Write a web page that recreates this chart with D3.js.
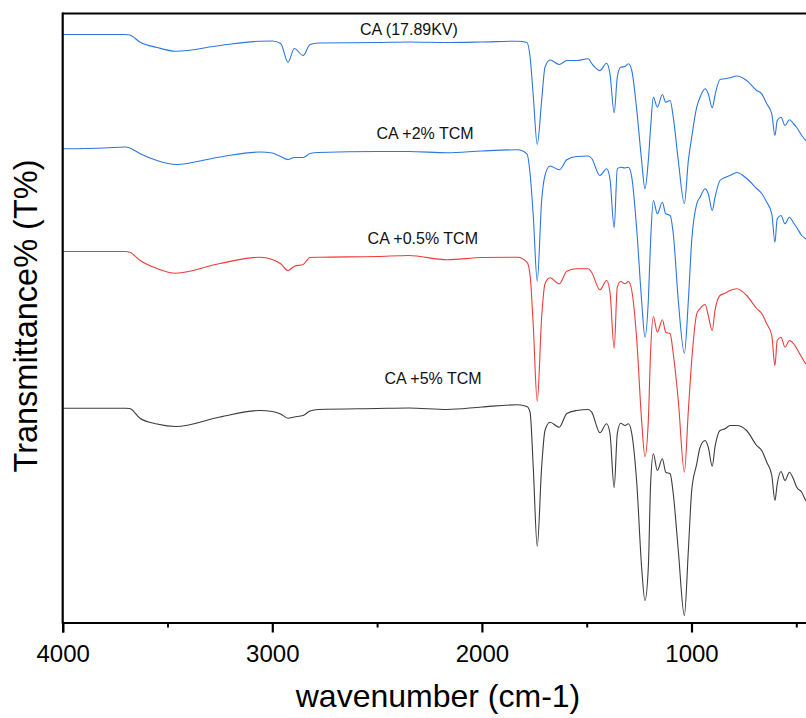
<!DOCTYPE html>
<html>
<head>
	<title>FTIR spectra</title>
	<style>
		body { margin: 0; background-color: white; }
		text { font-family: "Liberation Sans", Arial, sans-serif; }
	</style>
</head>
<body>

<div id="dataviz"></div>

<script src="https://d3js.org/d3.v7.min.js"></script>
<script>

// wavenumber grid (cm-1), shared by all spectra
var wavenumber = [4000, 3800, 3700, 3680, 3630, 3550, 3460, 3250, 3060, 3000, 2960,
	2925, 2895, 2853, 2820, 2780, 2500, 2350, 2166, 2000, 1830,
	1785, 1770, 1755, 1736, 1715, 1699, 1675, 1631, 1595, 1548,
	1492, 1476, 1437, 1405, 1389, 1369, 1354, 1338, 1317, 1301,
	1285, 1261, 1238, 1222, 1206, 1195, 1182, 1163, 1139, 1123,
	1102, 1087, 1063, 1034, 1015, 999, 975, 959, 935, 920,
	901, 888, 864, 840, 816, 784, 737, 689, 665, 641,
	617, 602, 591, 573, 554, 533, 514, 498, 474, 454,
	400];

// stacked transmittance (offset, a.u.)
var ca17 = [58.8, 58.8, 58.8, 58.75, 58.03, 57.5, 57.13, 57.7, 58.13, 58.15, 57.9,
	56.03, 57.4, 56.7, 57.8, 57.95, 58, 58.05, 58, 58.05, 58.13,
	58, 56.53, 52.7, 47.8, 52.2, 55.53, 56.25, 55.8, 56.2, 56.2,
	56.37, 55.9, 55.2, 55.93, 54.87, 50.97, 54.53, 55.53, 55.6, 55.87,
	55.2, 51.2, 46.2, 43.37, 46.2, 49.53, 52.53, 51.53, 52.8, 52.03,
	52.2, 50.53, 46.2, 41.9, 46.2, 48.53, 51.53, 52.53, 53.37, 52.87,
	51.47, 52.7, 54.3, 54.37, 54.47, 54.65, 54.2, 53.2, 52.87, 51.87,
	50.87, 48.7, 50.2, 50.53, 49.7, 50.27, 49.9, 49.5, 48.7, 48.2,
	47.7];

var ca2 = [47.37, 47.45, 47.55, 47.45, 46.87, 46.2, 45.8, 46.55, 47.05, 46.95, 46.6,
	46.3, 46.5, 46.5, 46.9, 47, 47.1, 47.1, 46.97, 47.15, 47.27,
	46.87, 44.87, 40.7, 34.13, 42.2, 44.7, 45.65, 45.27, 46.27, 46.6,
	46.65, 46.4, 44.7, 45.37, 44.37, 39.47, 45.37, 45.53, 45.45, 45.53,
	44.53, 39.2, 32.2, 28.53, 32.2, 38.2, 42.2, 40.87, 42.03, 40.87,
	40.7, 38.87, 32.2, 26.93, 32.2, 38.2, 41.87, 42.53, 43.37, 42.87,
	41.2, 42.5, 44.2, 44.5, 44.7, 45, 44.4, 43.4, 42.9, 42.03,
	40.87, 38.03, 40.37, 40.7, 39.87, 40.53, 40, 39.5, 38.7, 38.37,
	37.9];

var ca05 = [37.1, 37.1, 37.1, 37.03, 36.2, 35.4, 34.93, 35.9, 36.53, 36.3, 35.87,
	35.2, 35.63, 35.8, 36.5, 36.53, 36.6, 36.7, 36.27, 36.5, 36.53,
	36.03, 34.7, 29.7, 22.1, 30.53, 33.87, 34.47, 33.87, 35.13, 35.37,
	35.37, 35, 33.27, 34.2, 33.03, 27.43, 33.53, 34.1, 33.87, 34.1,
	33.2, 28.2, 20.2, 16.6, 20.2, 27.2, 30.6, 29.03, 30.27, 29.03,
	28.87, 26.87, 22.2, 15.03, 21.2, 26.2, 30.87, 31.4, 31.8, 30.7,
	29.2, 31.2, 32.7, 32.93, 33.2, 33.37, 32.7, 31.4, 30.9, 29.87,
	28.7, 25.7, 28.2, 28.53, 27.53, 28.2, 27.9, 27.4, 26.53, 25.87,
	25.4];

var ca5 = [21.43, 21.43, 21.43, 21.4, 20.4, 19.85, 19.6, 20.55, 21.2, 21.1, 20.85,
	20.43, 20.55, 20.7, 21.15, 21.3, 21.4, 21.45, 21.3, 21.55, 21.77,
	21.6, 21, 15.53, 7.63, 15.53, 19.2, 20.03, 19.53, 20.9, 21.2,
	21.3, 21.03, 18.97, 19.87, 18.9, 13.47, 18.9, 19.93, 19.7, 19.87,
	18.9, 13.9, 5.53, 2.2, 5.53, 13.9, 16.87, 15.2, 16.37, 15.03,
	14.87, 12.87, 7.2, 0.7, 7.2, 13.2, 15.87, 17.53, 18.2, 17.53,
	15.63, 17.53, 19.2, 19.37, 19.7, 19.7, 19.2, 17.7, 17.2, 16.03,
	14.7, 12.2, 13.87, 15.1, 14.2, 15.03, 14.37, 13.53, 13.03, 12.2,
	11.7];

var seriesNames = ['CA (17.89KV)', 'CA +2% TCM', 'CA +0.5% TCM', 'CA +5% TCM'];
var seriesValues = [ca17, ca2, ca05, ca5];
var seriesColors = ['#2b76e2', '#2b76e2', '#ee3b3b', '#3c3c3c'];
// label anchor: wavenumber and level
var labelWave = [2348, 2271, 2282, 2233];
var labelLevel = [58.78, 48.38, 37.85, 23.88];

var majorTicks = [4000, 3000, 2000, 1000];
var minorTicks = [3500, 2500, 1500, 500];

var width = 806;
var height = 718;
var plotLeft = 62.7;
var plotBottom = 622.5;
var plotTop = 13.5;

var svg = d3.select('#dataviz')
	.append('svg')
	.attr('width', width)
	.attr('height', height)
	;

var x = d3.scaleLinear()
	.domain([4000, 400])
	.range([plotLeft, plotLeft + 3600 * 0.2096])
	;

var y = d3.scaleLinear()
	.domain([0, 61])
	.range([plotBottom, plotBottom - 610])
	;

svg.append('clipPath')
	.attr('id', 'plotclip')
	.append('rect')
	.attr('x', plotLeft)
	.attr('y', plotTop)
	.attr('width', x(400) - plotLeft)
	.attr('height', plotBottom - plotTop)
	;

var line = d3.line()
	.x(function(d){ return x(d[0]); })
	.y(function(d){ return y(d[1]); })
	.curve(d3.curveMonotoneX)
	;

var g = svg.append('g').attr('clip-path', 'url(#plotclip)');

seriesValues.forEach(function(vals, i){
	var pts = wavenumber.map(function(w, j){ return [w, vals[j]]; });
	g.append('path')
		.datum(pts)
		.attr('d', line)
		.attr('fill', 'none')
		.attr('stroke', seriesColors[i])
		.attr('stroke-width', 1.1)
		;
});

// curve labels
seriesNames.forEach(function(name, i){
	svg.append('text')
		.attr('x', x(labelWave[i]))
		.attr('y', y(labelLevel[i]))
		.attr('text-anchor', 'middle')
		.attr('font-size', 16)
		.attr('fill', '#111')
		.text(name)
		;
});

// frame: top line and left axis
svg.append('line')
	.attr('x1', plotLeft)
	.attr('x2', width)
	.attr('y1', plotTop)
	.attr('y2', plotTop)
	.attr('stroke', 'black')
	.attr('stroke-width', 2.2)
	;

svg.append('line')
	.attr('x1', plotLeft)
	.attr('x2', plotLeft)
	.attr('y1', plotTop - 1)
	.attr('y2', plotBottom + 1)
	.attr('stroke', 'black')
	.attr('stroke-width', 2.2)
	;

// bottom axis
var xAxis = d3.axisBottom(x)
	.tickValues(majorTicks)
	.tickSize(10)
	.tickPadding(12)
	.tickFormat(d3.format('d'))
	;

var axisG = svg.append('g')
	.attr('transform', 'translate(0,' + plotBottom + ')')
	.call(xAxis)
	;

axisG.select('.domain')
	.attr('stroke-width', 2.2)
	;
axisG.selectAll('.tick line')
	.attr('stroke-width', 2.2)
	;
axisG.selectAll('.tick text')
	.attr('font-size', 24)
	.attr('font-family', '"Liberation Sans", Arial, sans-serif')
	.attr('fill', 'black')
	;

var minorAxis = d3.axisBottom(x)
	.tickValues(minorTicks)
	.tickSize(5)
	.tickFormat('')
	;

var minorG = svg.append('g')
	.attr('transform', 'translate(0,' + plotBottom + ')')
	.call(minorAxis)
	;
minorG.select('.domain').remove();
minorG.selectAll('.tick line').attr('stroke-width', 2);

// axis titles
svg.append('text')
	.attr('x', 438)
	.attr('y', 707)
	.attr('text-anchor', 'middle')
	.attr('font-size', 32)
	.attr('fill', 'black')
	.text('wavenumber (cm-1)')
	;

svg.append('text')
	.attr('transform', 'translate(37,316) rotate(-90)')
	.attr('text-anchor', 'middle')
	.attr('font-size', 32.5)
	.attr('fill', 'black')
	.text('Transmittance% (T%)')
	;

</script>

</body>
</html>
